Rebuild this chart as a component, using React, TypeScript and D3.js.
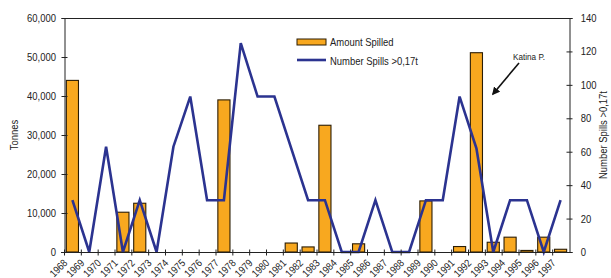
import React, { useEffect, useRef } from "react";
import * as d3 from "d3";

// years on the x axis
const years = [
  "1968", "1969", "1970", "1971", "1972", "1973", "1974", "1975", "1976", "1977",
  "1978", "1979", "1980", "1981", "1982", "1983", "1984", "1985", "1986", "1987",
  "1988", "1989", "1990", "1991", "1992", "1993", "1994", "1995", "1996", "1997",
];

// tonnes spilled (bars, left axis)
const amountSpilled = [
  44000, 0, 0, 10200, 12500, 0, 0, 0, 0, 39000,
  0, 0, 0, 2300, 1300, 32500, 0, 2100, 0, 0,
  0, 13100, 0, 1400, 51100, 2500, 3800, 400, 3800, 700,
];

// number of spills > 0,17t (line, right axis)
const numberSpills = [
  31, 0, 63, 0, 31, 0, 63, 93, 31, 31,
  125, 93, 93, 62, 31, 31, 0, 0, 31, 0,
  0, 31, 31, 93, 62, 0, 31, 31, 0, 31,
];

const leftTicks = [0, 10000, 20000, 30000, 40000, 50000, 60000];
const rightTicks = [0, 20, 40, 60, 80, 100, 120, 140];

const W = 611;
const H = 278;
const margin = { top: 18, right: 42, bottom: 26, left: 64 };
const FONT = "'Liberation Sans', Arial, sans-serif";
const TXT = "#222";
const SX = 0.86; // the original uses a narrow face

const App = () => {
  const ref = useRef<SVGSVGElement>(null);

  useEffect(() => {
    const svg = d3.select(ref.current);
    svg.selectAll("*").remove();

    const x0 = margin.left;
    const x1 = W - margin.right;
    const y0 = margin.top;
    const y1 = H - margin.bottom;

    const x = d3.scaleBand().domain(years).range([x0, x1]);
    const yL = d3.scaleLinear().domain([0, 60000]).range([y1, y0]);
    const yR = d3.scaleLinear().domain([0, 140]).range([y1, y0]);

    const bw = x.bandwidth() * 0.72;

    const label = (tx: number, ty: number, s: string, size = 11, rot = 0, anchor = "start") =>
      svg.append("text")
        .attr("transform", `translate(${tx},${ty}) rotate(${rot}) scale(${SX},1)`)
        .attr("text-anchor", anchor)
        .attr("dy", "0.35em")
        .attr("font-family", FONT)
        .attr("font-size", size)
        .attr("fill", TXT)
        .text(s);

    // bars
    svg
      .append("g")
      .selectAll("rect")
      .data(amountSpilled.map((v, i) => ({ year: years[i], v })).filter((d) => d.v > 0))
      .enter()
      .append("rect")
      .attr("x", (d) => x(d.year)! + (x.bandwidth() - bw) / 2)
      .attr("y", (d) => yL(d.v))
      .attr("width", bw)
      .attr("height", (d) => y1 - yL(d.v))
      .attr("fill", "#F8A81F")
      .attr("stroke", "#2b1d05")
      .attr("stroke-width", 1.1);

    // line
    const line = d3
      .line<number>()
      .x((_, i) => x(years[i])! + x.bandwidth() / 2)
      .y((d) => yR(d));
    svg
      .append("path")
      .attr("d", line(numberSpills))
      .attr("fill", "none")
      .attr("stroke", "#2B3390")
      .attr("stroke-width", 2.6)
      .attr("stroke-linejoin", "miter");

    // top frame line
    svg.append("line").attr("x1", x0).attr("x2", x1).attr("y1", y0 + 0.5).attr("y2", y0 + 0.5)
      .attr("stroke", TXT);

    // left axis
    const gl = svg.append("g").attr("transform", `translate(${x0 + 0.5},0)`);
    gl.call(
      d3.axisLeft(yL).tickValues(leftTicks).tickSize(3).tickPadding(7)
        .tickFormat((d) => d3.format(",")(d as number))
    );
    gl.selectAll(".tick line").attr("x2", 3).attr("x1", -3);

    // right axis
    const gr = svg.append("g").attr("transform", `translate(${x1 + 0.5},0)`);
    gr.call(d3.axisRight(yR).tickValues(rightTicks).tickSize(3).tickPadding(10));
    gr.selectAll(".tick line").attr("x1", -3).attr("x2", 3);

    [gl, gr].forEach((g) => {
      g.select(".domain").attr("stroke", TXT);
      g.selectAll(".tick line").attr("stroke", TXT);
      g.selectAll("text")
        .attr("font-family", FONT)
        .attr("font-size", 11)
        .attr("fill", TXT)
        .attr("transform", `scale(${SX},1)`);
    });

    // bottom axis, ticks at category boundaries
    const gb = svg.append("g").attr("transform", `translate(0,${y1 + 0.5})`);
    gb.append("line").attr("x1", x0 - 3).attr("x2", x1).attr("stroke", TXT);
    years.forEach((yr) => {
      const px = x(yr)! + 0.5;
      gb.append("line").attr("x1", px).attr("x2", px).attr("y1", -3).attr("y2", 3).attr("stroke", TXT);
    });
    years.forEach((yr) => {
      const px = x(yr)! + 0.5;
      label(px + 1, y1 + 9, yr, 10.5, -45, "end");
    });

    // axis titles
    label(14, (y0 + y1) / 2, "Tonnes", 11, -90, "middle");
    label(603, (y0 + y1) / 2, "Number Spills >0,17t", 11, -90, "middle");

    // legend
    svg.append("rect").attr("x", 297).attr("y", 39).attr("width", 29).attr("height", 6)
      .attr("fill", "#F8A81F").attr("stroke", "#2b1d05");
    label(330, 42, "Amount Spilled");
    svg.append("line").attr("x1", 297).attr("x2", 326).attr("y1", 60).attr("y2", 60)
      .attr("stroke", "#2B3390").attr("stroke-width", 2.6);
    label(330, 61, "Number Spills >0,17t");

    // annotation
    const defs = svg.append("defs");
    defs.append("marker")
      .attr("id", "arrow")
      .attr("viewBox", "0 0 10 10")
      .attr("refX", 8)
      .attr("refY", 5)
      .attr("markerWidth", 5)
      .attr("markerHeight", 5)
      .attr("orient", "auto")
      .append("path")
      .attr("d", "M0,0 L10,5 L0,10 z")
      .attr("fill", "#111");
    svg.append("line")
      .attr("x1", 519).attr("y1", 63).attr("x2", 493).attr("y2", 94)
      .attr("stroke", "#111").attr("stroke-width", 1.6)
      .attr("marker-end", "url(#arrow)");
    label(513, 57, "Katina P.", 9.5);
  }, []);

  return (
    <svg
      ref={ref}
      width={W}
      height={H}
      style={{ position: "absolute", left: 0, top: 0, background: "#fff" }}
    />
  );
};

export default App;
